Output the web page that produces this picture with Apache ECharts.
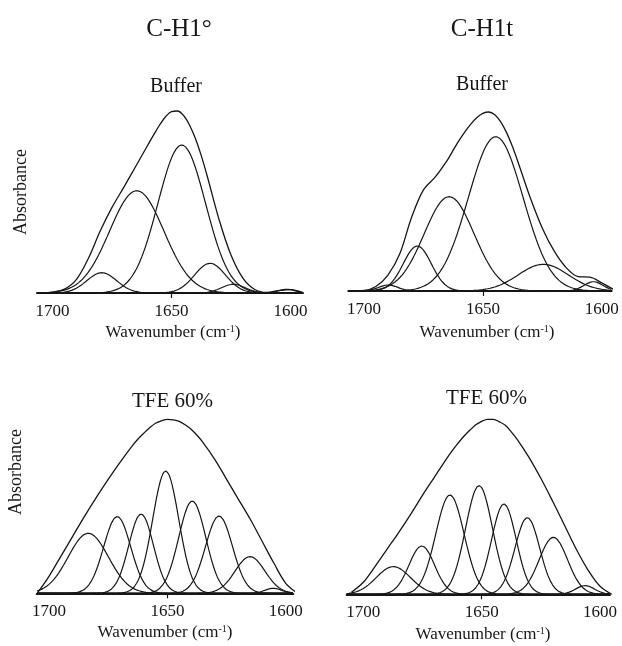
<!DOCTYPE html>
<html><head><meta charset="utf-8">
<script src="https://cdn.jsdelivr.net/npm/echarts@6/dist/echarts.min.js"></script>
<style>html,body{margin:0;padding:0;background:#fff}#c{width:622px;height:646px}</style>
</head><body><div id="c"></div>
<script>
// ---- text ----
const panelTitles = ['C-H1°', 'C-H1t'];
const conditionLabels = ['Buffer', 'TFE 60%'];
const yAxisTitle = 'Absorbance';
const xTickLabels = [1700, 1650, 1600];
const xMidTick = [1650];

const envelopeWavenumbers = [1705,1700,1695,1690,1685,1680,1675,1670,1665,1662.5,1660,1657.5,1655,1652.5,1650,1647.5,1645,1642.5,1640,1637.5,1635,1630,1625,1620,1615,1610,1605,1600,1595];
const envBufferH1o = [0.3,0.9,3.8,13.4,34.3,61.7,85.6,105.9,126.8,137.3,147.8,158.1,168,176.2,181.4,182,177.7,168.3,154.7,137.4,117,73.4,38,14.9,3.5,0.6,2.3,3.3,0.6];
const envBufferH1t = [0.05,0.5,4.5,15.6,36.9,73.5,101.1,114.1,130.6,140.8,150.6,159.4,167.1,173.4,177.6,179,176.2,169.1,158.1,143.9,127.3,92.8,62.8,39.8,23.4,14.4,13.8,8.1,1.5];
const envTfeH1o = [0,17,37,57,77,96,114,131,147,154,160,165.5,170,172.5,174,173.5,172,168.5,164,158,151,134,114,94,74,52,30,10,0];
const envTfeH1t = [2,12,28,45,62,80,99,117,135,143.5,151,158,164,169.5,173,175,175,172.5,169,162.5,155,137,116,93,69,45,24,8,0];

// ---- component bands: centre (cm-1), height (a.u.), width sigma (cm-1) ----
const bandCenterBufferH1o = [1679.3, 1664.6, 1645.7, 1633.8, 1624.0, 1601.6];
const bandHeightBufferH1o = [20.3, 102.3, 148, 29.7, 8.7, 3.7];
const bandWidthBufferH1o  = [6.3, 11.4, 10, 6.5, 5, 3.5];

const bandCenterBufferH1t = [1689.8, 1677.6, 1664.2, 1644.6, 1624.6, 1603.5];
const bandHeightBufferH1t = [6, 45, 94.3, 154.3, 26.7, 9.3];
const bandWidthBufferH1t  = [4, 5.9, 10.5, 11.5, 10.5, 4];

const bandCenterTfeH1o = [1683.4, 1671.2, 1661.1, 1650.7, 1639.5, 1628.2, 1615.1, 1605.3];
const bandHeightTfeH1o = [60, 76.7, 79.3, 122.3, 92.3, 77.3, 36.7, 5];
const bandWidthTfeH1o  = [8.5, 5.7, 5.2, 5.5, 5.7, 5.7, 6.3, 3.5];

const bandCenterTfeH1t = [1687.3, 1675.3, 1663.4, 1651.1, 1640.6, 1630.7, 1619.7, 1606.3];
const bandHeightTfeH1t = [27.7, 48.3, 99.3, 108.7, 90.3, 76.7, 57, 8.7];
const bandWidthTfeH1t  = [7.2, 5.4, 6.0, 5.7, 5.2, 5.2, 6.0, 4];

// ---- build ----
const panels = [
  {grid:{left:37, top:93, width:266, height:200}, min:1594.75, max:1706.51,
   env:envBufferH1o, c:bandCenterBufferH1o, h:bandHeightBufferH1o, w:bandWidthBufferH1o},
  {grid:{left:348.3, top:91, width:263.4, height:200}, min:1595.84, max:1706.6,
   env:envBufferH1t, c:bandCenterBufferH1t, h:bandHeightBufferH1t, w:bandWidthBufferH1t},
  {grid:{left:36.7, top:393.3, width:256.6, height:200}, min:1596.83, max:1705.19,
   env:envTfeH1o, c:bandCenterTfeH1o, h:bandHeightTfeH1o, w:bandWidthTfeH1o},
  {grid:{left:346.7, top:394.3, width:263.3, height:200}, min:1595.78, max:1707.01,
   env:envTfeH1t, c:bandCenterTfeH1t, h:bandHeightTfeH1t, w:bandWidthTfeH1t}
];

const FONT = '"Liberation Serif", "Times New Roman", serif';
const INK = '#161616';
const grids = [], xAxes = [], yAxes = [], series = [];
panels.forEach((p, i) => {
  grids.push(Object.assign({outerBoundsMode:'none', containLabel:false}, p.grid));
  xAxes.push({
    gridIndex:i, type:'value', inverse:true, min:p.min, max:p.max,
    axisLine:{show:true, onZero:false, lineStyle:{color:INK, width:2}},
    axisTick:{show:true, customValues:xMidTick, length:5, lineStyle:{color:INK, width:1.2}},
    axisLabel:{customValues:xTickLabels, formatter:v => String(v), fontFamily:FONT, fontSize:17, color:INK, margin:10},
    splitLine:{show:false}
  });
  yAxes.push({gridIndex:i, type:'value', min:0, max:200, show:false});
  series.push({
    type:'line', xAxisIndex:i, yAxisIndex:i, smooth:0.35, showSymbol:false, silent:true,
    lineStyle:{color:INK, width:1.3},
    data: envelopeWavenumbers.map((x, k) => [x, p.env[k]])
  });
  p.c.forEach((c, b) => {
    const pts = [];
    for (let x = Math.ceil(p.min * 2) / 2; x <= p.max; x += 0.5) {
      const d = (x - c) / p.w[b];
      pts.push([x, p.h[b] * Math.exp(-0.5 * d * d)]);
    }
    series.push({type:'line', xAxisIndex:i, yAxisIndex:i, showSymbol:false, silent:true,
      lineStyle:{color:INK, width:1.2}, data:pts});
  });
});

function txt(text, x, y, size, rot) {
  return {type:'text', x:x, y:y, rotation:rot || 0, silent:true,
    style:{text:text, font:size + 'px ' + FONT, fill:INK, align:'center', verticalAlign:'middle',
      textAlign:'center', textVerticalAlign:'middle'}};
}
function xName(x, y) {
  return {type:'text', x:x, y:y, silent:true,
    style:{text:'{a|Wavenumber (cm}{s|-1}{a|)}', fill:INK, align:'center', verticalAlign:'middle',
      textAlign:'center', textVerticalAlign:'middle',
      rich:{a:{fontFamily:FONT, fontSize:17, lineHeight:18, fill:INK, color:INK},
            s:{fontFamily:FONT, fontSize:10, lineHeight:18, verticalAlign:'top', fill:INK, color:INK}}}};
}

const graphics = [
  txt(panelTitles[0], 179, 29, 25), txt(panelTitles[1], 482, 29, 25),
  txt(conditionLabels[0], 176, 87, 20), txt(conditionLabels[0], 482, 85, 20),
  txt(conditionLabels[1], 172.5, 401, 21), txt(conditionLabels[1], 486.5, 398, 21),
  txt(yAxisTitle, 21, 192, 18, Math.PI / 2), txt(yAxisTitle, 16, 472, 18, Math.PI / 2),
  xName(173, 333), xName(487, 333), xName(165, 633), xName(483, 635)
];

const chart = echarts.init(document.getElementById('c'), null, {renderer:'canvas'});
chart.setOption({
  animation:false, backgroundColor:'#fff',
  grid:grids, xAxis:xAxes, yAxis:yAxes, series:series,
  graphic:{elements:graphics}
});
</script></body></html>
